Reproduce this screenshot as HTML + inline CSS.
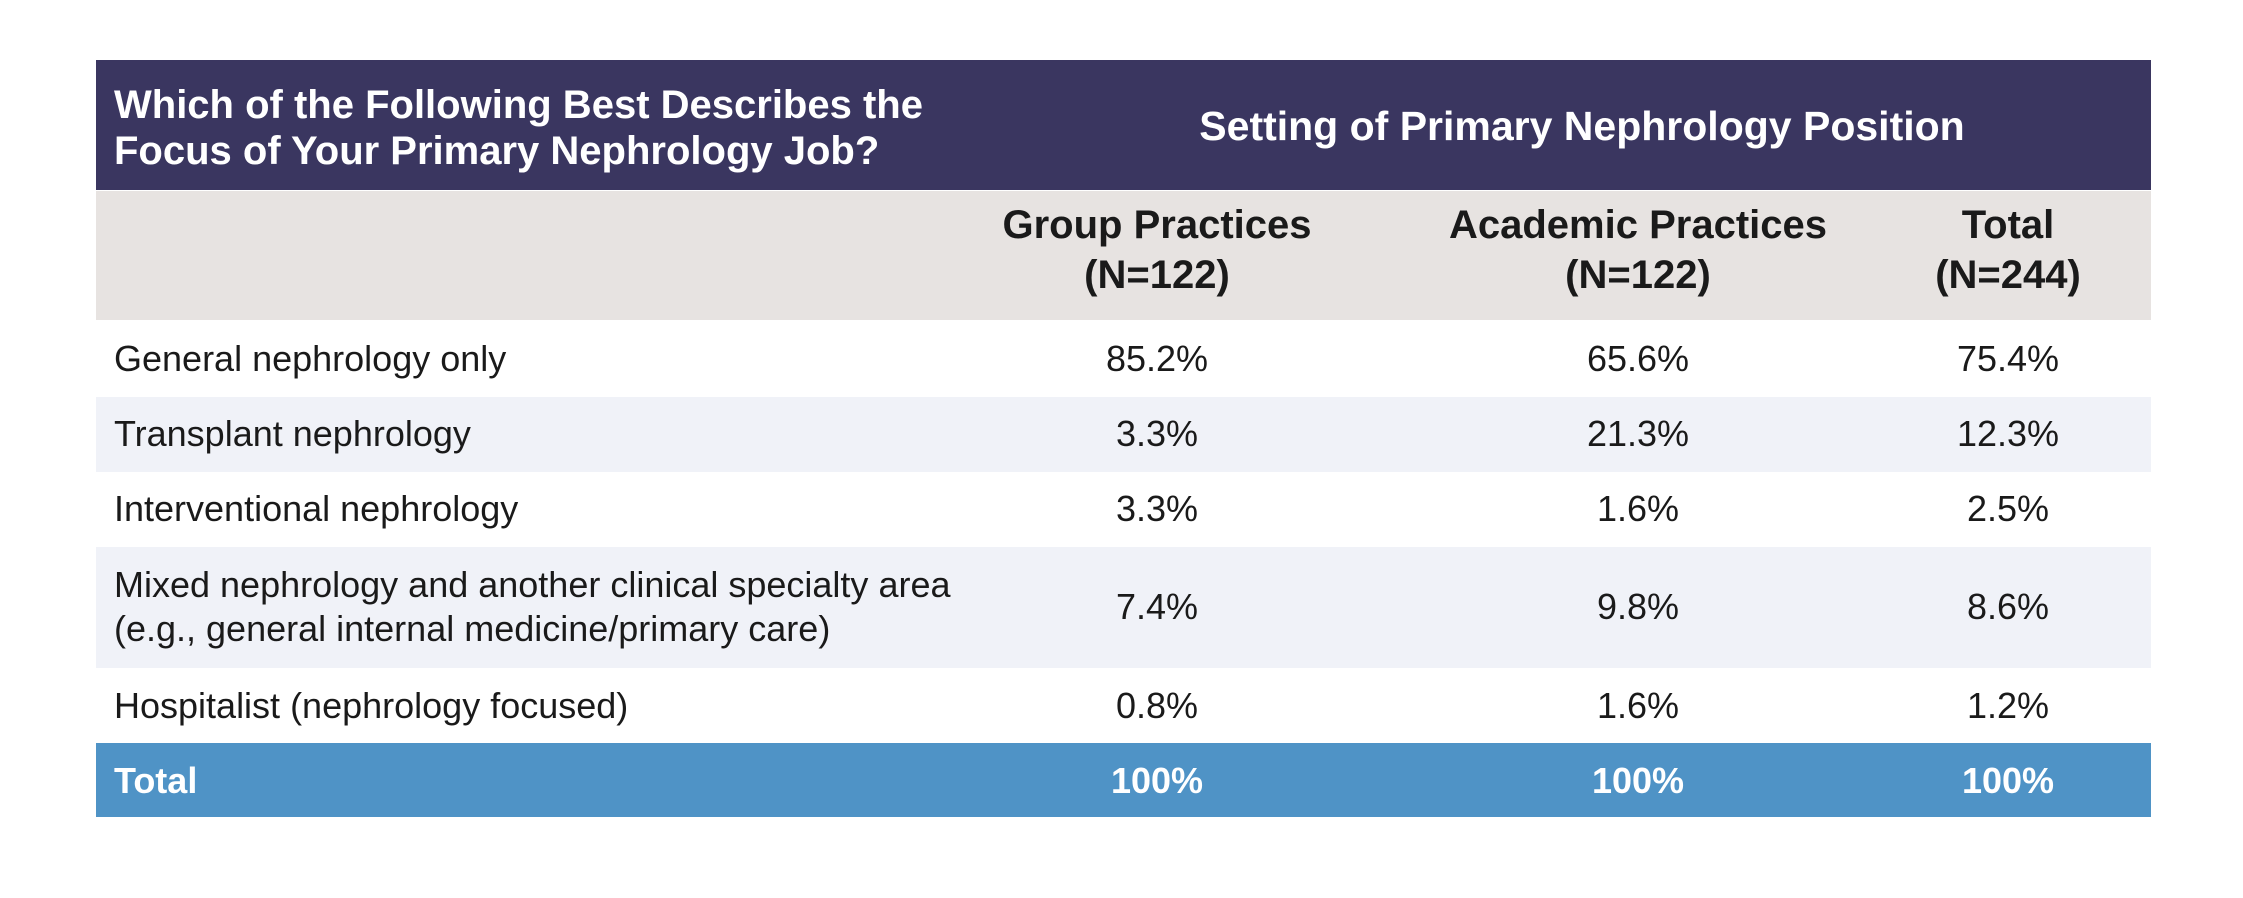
<!DOCTYPE html>
<html><head><meta charset="utf-8"><style>
body{margin:0;width:2243px;height:898px;background:#fff;font-family:"Liberation Sans",Arial,sans-serif;position:relative;overflow:hidden}
.r{position:absolute;left:96px;width:2055px}
.t{position:absolute;white-space:nowrap;line-height:1}
.c{transform:translateX(-50%);text-align:center}
.b{font-weight:bold}
.v{font-size:36px;color:#1a1a1a}
</style></head><body>
<div class="r" style="top:60px;height:130px;background:#3a3660"></div>
<div class="r" style="top:191px;height:129px;background:#e7e3e1"></div>
<div class="r" style="top:320px;height:76px;background:#fff"></div>
<div class="r" style="top:397px;height:75px;background:#f0f2f8"></div>
<div class="r" style="top:472px;height:74px;background:#fff"></div>
<div class="r" style="top:547px;height:121px;background:#f0f2f8"></div>
<div class="r" style="top:668px;height:74px;background:#fff"></div>
<div class="r" style="top:743px;height:74px;background:#4f93c6"></div>

<div class="t b" style="left:114px;top:82px;font-size:40px;color:#fff;line-height:46px">Which of the Following Best Describes the<br>Focus of Your Primary Nephrology Job?</div>
<div class="t b c" style="left:1582px;top:106px;font-size:41px;color:#fff">Setting of Primary Nephrology Position</div>

<div class="t b c" style="left:1157px;top:200px;font-size:40px;color:#1a1a1a;line-height:50px">Group Practices<br>(N=122)</div>
<div class="t b c" style="left:1638px;top:200px;font-size:40px;color:#1a1a1a;line-height:50px">Academic Practices<br>(N=122)</div>
<div class="t b c" style="left:2008px;top:200px;font-size:40px;color:#1a1a1a;line-height:50px">Total<br>(N=244)</div>

<div id="rows"></div>
<script>
const labels=["General nephrology only","Transplant nephrology","Interventional nephrology","Mixed nephrology and another clinical specialty area<br>(e.g., general internal medicine/primary care)","Hospitalist (nephrology focused)"];
const group=["85.2%","3.3%","3.3%","7.4%","0.8%"];
const academic=["65.6%","21.3%","1.6%","9.8%","1.6%"];
const total=["75.4%","12.3%","2.5%","8.6%","1.2%"];
const centers=[359,434,509,607,706];
const root=document.getElementById('rows');
function add(html,left,cy,cls,lines){
  const d=document.createElement('div');
  d.className='t v '+cls;
  d.innerHTML=html;
  d.style.left=left+'px';
  d.style.lineHeight='44px';
  d.style.top=(cy-22*lines)+'px';
  root.appendChild(d);
  return d;
}
labels.forEach((l,i)=>{
  const n=l.includes('<br>')?2:1;
  const a=add(l,114,centers[i],'',n);
  
  
  const g=add(group[i],1157,centers[i],'c',1);
  
  
  const ac=add(academic[i],1638,centers[i],'c',1);
  
  
  const t=add(total[i],2008,centers[i],'c',1);
  
  
});
</script>
<div class="t b" style="left:114px;top:763px;font-size:36px;color:#fff">Total</div>
<div class="t b c" style="left:1157px;top:763px;font-size:36px;color:#fff">100%</div>
<div class="t b c" style="left:1638px;top:763px;font-size:36px;color:#fff">100%</div>
<div class="t b c" style="left:2008px;top:763px;font-size:36px;color:#fff">100%</div>
</body></html>
